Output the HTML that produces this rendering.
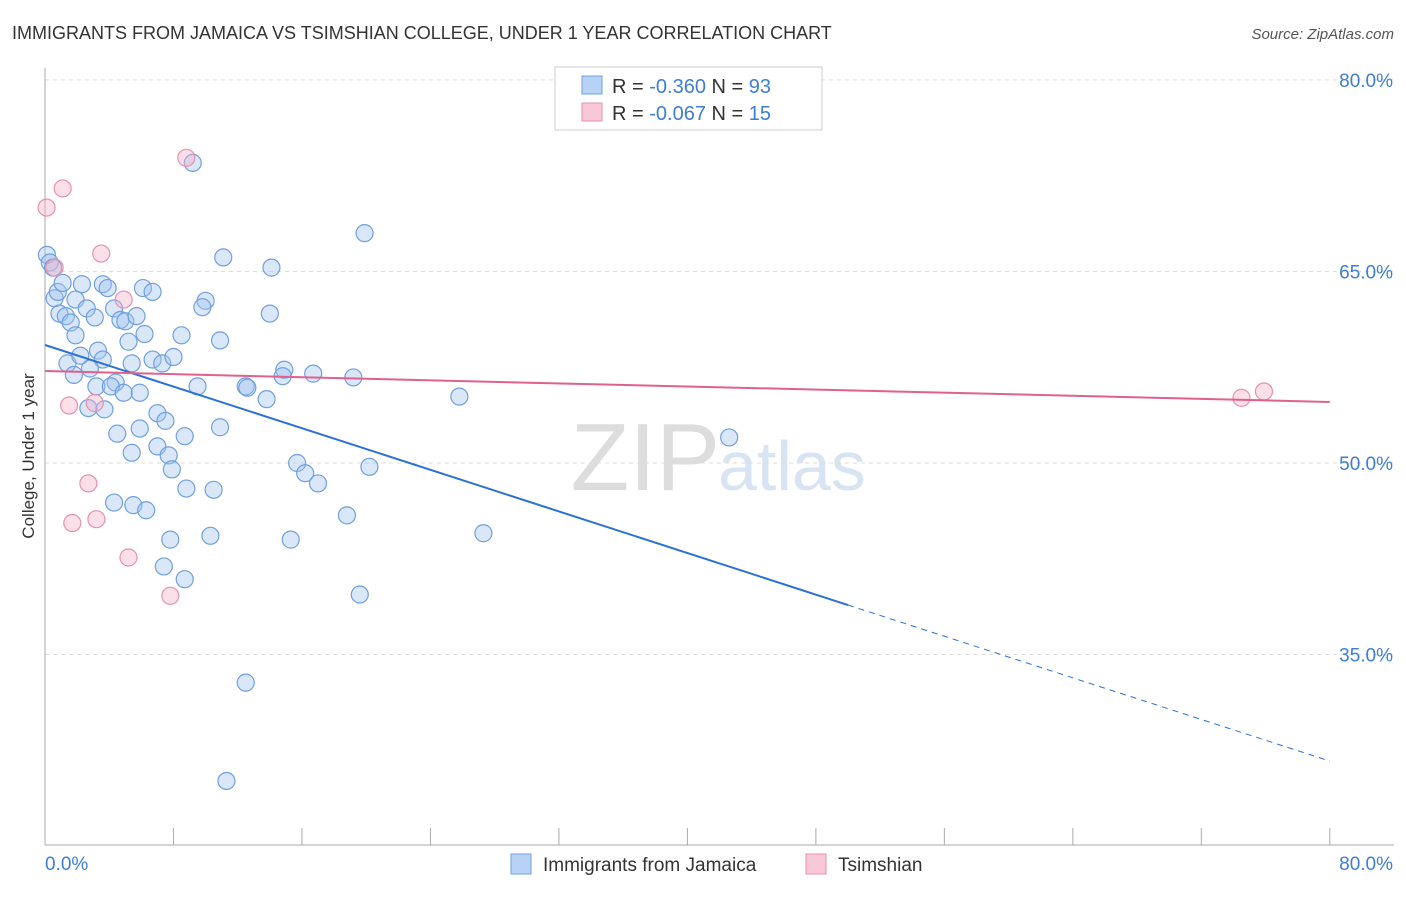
<!DOCTYPE html>
<html><head><meta charset="utf-8">
<style>
body{margin:0;background:#fff;font-family:"Liberation Sans",sans-serif;}
svg text{font-family:"Liberation Sans",sans-serif;}
</style></head>
<body>
<svg id="chart" width="1406" height="892" xmlns="http://www.w3.org/2000/svg">
<text x="12" y="39" font-size="18" fill="#333">IMMIGRANTS FROM JAMAICA VS TSIMSHIAN COLLEGE, UNDER 1 YEAR CORRELATION CHART</text>
<text x="1394" y="39" font-size="15" fill="#555" text-anchor="end" font-style="italic">Source: ZipAtlas.com</text>
<text x="720" y="490" font-size="96" fill="#ddd" text-anchor="end" font-family="Liberation Serif">ZIP</text>
<text x="718" y="490" font-size="70" fill="#d8e4f4">atlas</text>
<text transform="translate(34,456) rotate(-90)" font-size="17" fill="#333" text-anchor="middle">College, Under 1 year</text>
<g id="grid"></g>
<g id="series"></g>
<g>
<rect x="555" y="67" width="267" height="63" fill="#fff" stroke="#ccc"/>
<rect x="582" y="76" width="20" height="18" fill="#b8d2f5" stroke="#6fa0e0"/>
<text x="612" y="93" font-size="20" fill="#333">R = <tspan fill="#3d7dd8">-0.360</tspan>   N = <tspan fill="#3d7dd8">93</tspan></text>
<rect x="582" y="103" width="20" height="18" fill="#f8c8d8" stroke="#e890b0"/>
<text x="612" y="120" font-size="20" fill="#333">R = <tspan fill="#3d7dd8">-0.067</tspan>   N = <tspan fill="#3d7dd8"> 15</tspan></text>
</g>
<g>
<rect x="511" y="854" width="20" height="20" fill="#b8d2f5" stroke="#6fa0e0"/>
<text x="543" y="871" font-size="19" fill="#333">Immigrants from Jamaica</text>
<rect x="806" y="854" width="20" height="20" fill="#f8c8d8" stroke="#e890b0"/>
<text x="838" y="871" font-size="19" fill="#333">Tsimshian</text>
</g>
</svg>
<script>
const yTicks=[35,50,65,80];
const yTickLabels=["35.0%","50.0%","65.0%","80.0%"];
const xTickLabels=["0.0%","80.0%"];
const blueX=[0.12,0.3,0.5,0.6,0.8,0.9,1.1,1.3,1.6,1.9,1.9,2.3,2.6,3.1,3.6,3.9,4.3,4.7,5.0,5.7,6.2,5.2,6.1,6.7,8.5,10.0,9.8,10.9,11.1,14.1,14.0,19.9,9.2,1.4,2.2,3.3,3.6,1.8,2.8,3.2,4.4,4.1,4.9,5.9,5.4,6.7,7.3,8.0,2.7,3.7,7.0,7.5,4.5,5.9,5.4,7.0,7.7,8.7,7.9,9.5,10.9,12.5,12.6,13.8,14.9,14.8,16.7,19.2,25.8,42.6,15.7,16.2,17.0,20.2,18.8,27.3,8.8,10.5,4.3,5.5,6.3,7.8,10.3,15.3,7.4,8.7,19.6,12.5,11.3];
const blueY=[66.3,65.7,65.3,62.9,63.4,61.7,64.1,61.5,61.0,60.0,62.8,64.0,62.1,61.4,64.0,63.7,62.1,61.2,61.1,61.5,60.1,59.5,63.7,63.4,60.0,62.7,62.2,59.6,66.1,65.3,61.7,68.0,73.5,57.8,58.4,58.8,58.1,56.9,57.4,56.0,56.3,56.0,55.5,55.5,57.8,58.1,57.8,58.3,54.3,54.2,53.9,53.3,52.3,52.7,50.8,51.3,50.6,52.1,49.5,56.0,52.8,56.0,55.9,55.0,57.3,56.8,57.0,56.7,55.2,52.0,50.0,49.2,48.4,49.7,45.9,44.5,48.0,47.9,46.9,46.7,46.3,44.0,44.3,44.0,41.9,40.9,39.7,32.8,25.1];
const pinkX=[0.1,1.1,8.8,0.6,3.5,4.9,1.5,3.1,2.7,1.7,3.2,5.2,7.8,74.5,75.9];
const pinkY=[70.0,71.5,73.9,65.3,66.4,62.8,54.5,54.7,48.4,45.3,45.6,42.6,39.6,55.1,55.6];
const blueTrend=[59.24,26.66]; // at x=0 and x=80
const blueSolidEnd=50;
const pinkTrend=[57.2,54.78];

const NS="http://www.w3.org/2000/svg";
const sx=v=>45+v*16.06;
const sy=v=>463-(v-50)*12.77;
function mk(t,a,p){const e=document.createElementNS(NS,t);for(const k in a)e.setAttribute(k,a[k]);p.appendChild(e);return e;}
const grid=document.getElementById('grid'),ser=document.getElementById('series');
yTicks.forEach((t,i)=>{
 const l=mk('line',{x1:45,x2:1394,y1:sy(t),y2:sy(t),stroke:'#ddd','stroke-dasharray':'4,4'},grid);
 
 
 const tx=mk('text',{x:1393,y:sy(t)+7,'font-size':19,fill:'#3d7dd8','text-anchor':'end'},grid);
 tx.textContent=yTickLabels[i];
 
 
});
const ax=mk('line',{x1:45,x2:45,y1:68,y2:845,stroke:'#aaa'},grid);


const bx=mk('line',{x1:45,x2:1394,y1:845,y2:845,stroke:'#aaa'},grid);


for(let i=0;i<=10;i++){
 const tk=mk('line',{x1:sx(i*8),x2:sx(i*8),y1:828,y2:845,stroke:'#aaa'},grid);
 
 
}
[[0,'start',45],[80,'end',1393]].forEach((d,i)=>{
 const tx=mk('text',{x:d[2],y:870,'font-size':19,fill:'#3d7dd8','text-anchor':d[1]},grid);
 tx.textContent=xTickLabels[i];
 
 
});
blueX.forEach((x,i)=>{
 const c=mk('circle',{cx:sx(x),cy:sy(blueY[i]),r:8.5,fill:'rgba(160,195,240,0.4)',stroke:'#6fa0e0','stroke-width':1.2},ser);
 
 
});
pinkX.forEach((x,i)=>{
 const c=mk('circle',{cx:sx(x),cy:sy(pinkY[i]),r:8.5,fill:'rgba(245,175,200,0.4)',stroke:'#e890b0','stroke-width':1.2},ser);
 
 
});
const bv=x=>blueTrend[0]+(blueTrend[1]-blueTrend[0])*x/80;
const l1=mk('line',{x1:sx(0),y1:sy(bv(0)),x2:sx(blueSolidEnd),y2:sy(bv(blueSolidEnd)),stroke:'#2a70d8','stroke-width':2},ser);


const l2=mk('line',{x1:sx(blueSolidEnd),y1:sy(bv(blueSolidEnd)),x2:sx(80),y2:sy(bv(80)),stroke:'#2a70d8','stroke-width':1,'stroke-dasharray':'6,5'},ser);


const l3=mk('line',{x1:sx(0),y1:sy(pinkTrend[0]),x2:sx(80),y2:sy(pinkTrend[1]),stroke:'#e06090','stroke-width':2},ser);


</script>
</body></html>
